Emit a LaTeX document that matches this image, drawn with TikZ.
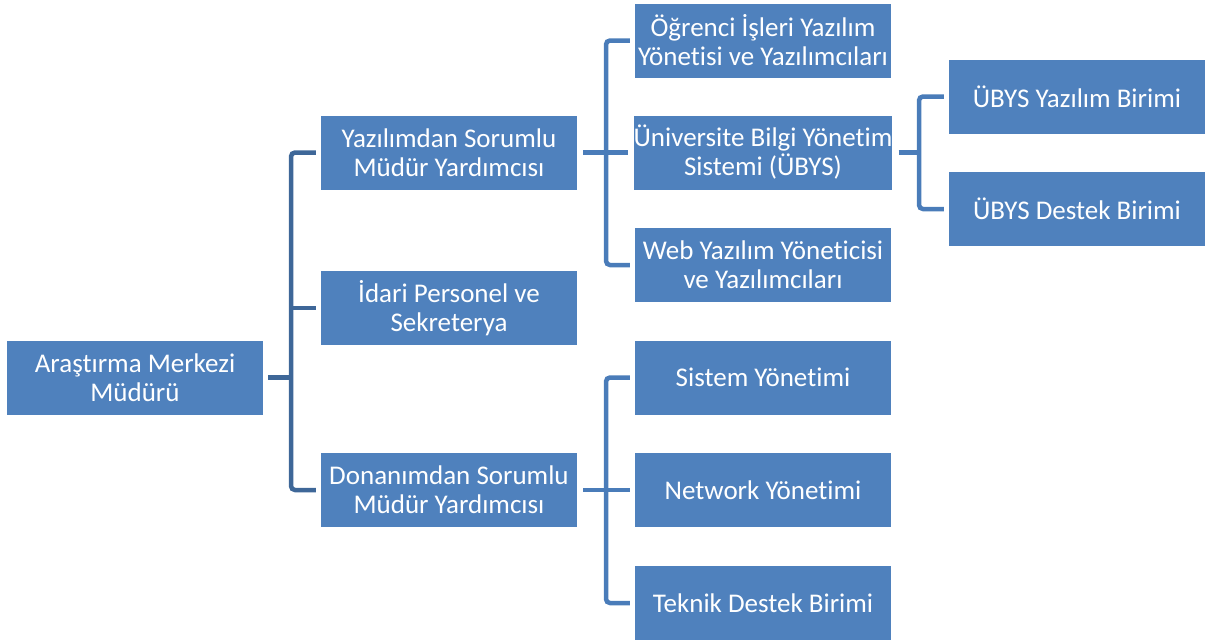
\documentclass[tikz,border=0pt]{standalone}
\usepackage{fontspec}
\setmainfont{Carlito}[Ligatures=NoCommon]
\usetikzlibrary{positioning}
\definecolor{boxblue}{RGB}{79,129,189}
\definecolor{lineblue}{RGB}{74,124,185}
\definecolor{rootline}{RGB}{62,103,152}
\tikzset{
  unit/.style={fill=boxblue, text=white, minimum width=256pt, minimum height=74pt,
    inner sep=0pt, align=center, font=\fontsize{27}{29}\selectfont},
  conn/.style={draw=lineblue, line width=4.5pt, rounded corners=4pt},
}
\begin{document}
\begin{tikzpicture}[x=1pt,y=-1pt]
  \useasboundingbox (0,0) rectangle (1210,641);
  % root
  \node[unit] (MD) at (135,377.5) {Araştırma Merkezi\\Müdürü};
  % assistants
  \node[unit] (YS) at (449,152.5) {Yazılımdan Sorumlu\\Müdür Yardımcısı};
  \node[unit] (IP) at (449,308) {İdari Personel ve\\Sekreterya};
  \node[unit] (DS) at (449,490) {Donanımdan Sorumlu\\Müdür Yardımcısı};
  % software units
  \node[unit] (OI) at (763,40.5) {Öğrenci İşleri Yazılım\\Yönetisi ve Yazılımcıları};
  \node[unit] (UB) at (763,152.5) {Üniversite Bilgi Yönetim\\Sistemi (ÜBYS)};
  \node[unit] (WY) at (763,265) {Web Yazılım Yöneticisi\\ve Yazılımcıları};
  % hardware units
  \node[unit] (SY) at (763,377.5) {Sistem Yönetimi};
  \node[unit] (NY) at (763,490) {Network Yönetimi};
  \node[unit] (TD) at (763,603) {Teknik Destek Birimi};
  % UBYS units
  \node[unit] (UY) at (1077,96.5) {ÜBYS Yazılım Birimi};
  \node[unit] (UD) at (1077,209) {ÜBYS Destek Birimi};

  \coordinate (b1) at (291,0);
  \coordinate (b2) at (606,0);
  \coordinate (b3) at (919,0);

  \draw[conn, draw=rootline] ([xshift=-5pt]YS.west) -- (YS.west -| b1) -- (DS.west -| b1) -- ([xshift=-5pt]DS.west);
  \draw[conn, draw=rootline] ([xshift=5pt]MD.east) -- (MD.east -| b1);
  \draw[conn, draw=rootline] ([xshift=-5pt]IP.west) -- (IP.west -| b1);

  \draw[conn] ([xshift=-5pt]OI.west) -- (OI.west -| b2) -- (WY.west -| b2) -- ([xshift=-5pt]WY.west);
  \draw[conn] ([xshift=6pt]YS.east) -- ([xshift=-5pt]UB.west);

  \draw[conn] ([xshift=-5pt]SY.west) -- (SY.west -| b2) -- (TD.west -| b2) -- ([xshift=-5pt]TD.west);
  \draw[conn] ([xshift=6pt]DS.east) -- ([xshift=-5pt]NY.west);

  \draw[conn] ([xshift=-5pt]UY.west) -- (UY.west -| b3) -- (UD.west -| b3) -- ([xshift=-5pt]UD.west);
  \draw[conn] ([xshift=6pt]UB.east) -- (UB.east -| b3);
\end{tikzpicture}
\end{document}
